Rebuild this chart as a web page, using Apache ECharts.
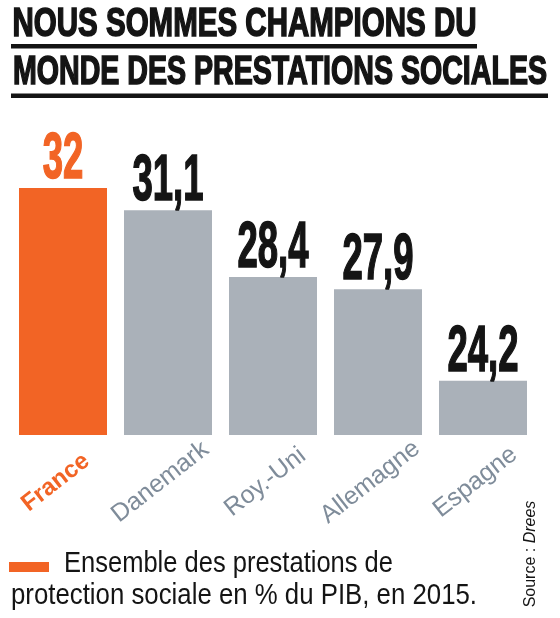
<!DOCTYPE html>
<html>
<head>
<meta charset="utf-8">
<script src="https://cdn.jsdelivr.net/npm/echarts@6/dist/echarts.min.js"></script>
<style>html,body{margin:0;padding:0;background:#fff;}#c{width:560px;height:618px;}</style>
</head>
<body>
<div id="c"></div>
<script>
const titleLines = ['NOUS SOMMES CHAMPIONS DU', 'MONDE DES PRESTATIONS SOCIALES'];
const categories = ['France', 'Danemark', 'Roy.-Uni', 'Allemagne', 'Espagne'];
const values = [32, 31.1, 28.4, 27.9, 24.2];
const legendLines = ['Ensemble des prestations de', 'protection sociale en % du PIB, en 2015.'];
const sourceLabel = 'Source : ';
const sourceName = 'Drees';

const ORANGE = '#f26425';
const GRAY = '#aab1b9';
const LABEL_GRAY = '#7f8c9a';
const INK = '#141414';
const FAM = '"Liberation Sans", Arial, sans-serif';

const ctx = document.createElement('canvas').getContext('2d');
function fitScale(text, font, target) {
  ctx.font = font;
  const w = ctx.measureText(text).width;
  return w > 0 ? target / w : 1;
}
const titleFont = 'bold 40px ' + FAM;
const t1Scale = fitScale(titleLines[0], titleFont, 464);
const t2Scale = fitScale(titleLines[1], titleFont, 534);
const legFont = '30px ' + FAM;
const l1Scale = fitScale(legendLines[0], legFont, 329);
const l2Scale = fitScale(legendLines[1], legFont, 466);

const chart = echarts.init(document.getElementById('c'), null, {renderer: 'canvas'});
const fmt = v => String(v).replace('.', ',');

chart.setOption({
  backgroundColor: '#fff',
  animation: false,
  grid: {left: 10.5, right: 24.5, top: 188, bottom: 183},
  xAxis: {
    type: 'category',
    data: categories,
    axisLine: {show: false},
    axisTick: {show: false},
    axisLabel: {
      interval: 0,
      rotate: 38,
      margin: 57,
      align: 'center',
      verticalAlign: 'bottom',
      formatter: (v, i) => i === 0 ? '{a|' + v + '}' : '{b|' + v + '}',
      rich: {
        a: {color: ORANGE, fontWeight: 'bold', fontSize: 24, fontFamily: FAM},
        b: {color: LABEL_GRAY, fontWeight: 'normal', fontSize: 25, fontFamily: FAM}
      }
    }
  },
  yAxis: {type: 'value', min: 22, max: 32, show: false, splitLine: {show: false}},
  series: [
    {
      name: legendLines.join(' '),
      type: 'bar',
      barWidth: 88,
      itemStyle: {color: ORANGE},
      data: values.map((v, i) => ({value: v, itemStyle: {color: i === 0 ? ORANGE : GRAY}}))
    },
    {
      type: 'custom',
      name: 'valeurs',
      data: values.map((v, i) => [i, v]),
      renderItem: (params, api) => {
        const pt = api.coord([api.value(0), api.value(1)]);
        const i = params.dataIndex;
        const c = i === 0 ? ORANGE : INK;
        return {
          type: 'text',
          x: pt[0],
          y: pt[1] - 27.5,
          scaleX: 0.57,
          style: {
            text: fmt(values[i]),
            font: 'bold 64px ' + FAM,
            fill: c,
            stroke: c,
            lineWidth: 1.6,
            align: 'center',
            verticalAlign: 'middle'
          }
        };
      },
      z: 5
    }
  ],
  graphic: [
    {type: 'text', x: 12.5, y: 25, scaleX: t1Scale,
     style: {text: titleLines[0], font: titleFont, fill: INK, stroke: INK, lineWidth: 1.6, align: 'left', verticalAlign: 'middle'}},
    {type: 'rect', shape: {x: 11, y: 44, width: 466, height: 4.5}, style: {fill: INK}},
    {type: 'text', x: 13, y: 72.5, scaleX: t2Scale,
     style: {text: titleLines[1], font: titleFont, fill: INK, stroke: INK, lineWidth: 1.6, align: 'left', verticalAlign: 'middle'}},
    {type: 'rect', shape: {x: 11, y: 93.5, width: 537, height: 4.5}, style: {fill: INK}},
    {type: 'rect', shape: {x: 9, y: 562, width: 40, height: 10}, style: {fill: ORANGE}},
    {type: 'text', x: 64, y: 564, scaleX: l1Scale,
     style: {text: legendLines[0], font: legFont, fill: INK, align: 'left', verticalAlign: 'middle'}},
    {type: 'text', x: 11, y: 596, scaleX: l2Scale,
     style: {text: legendLines[1], font: legFont, fill: INK, align: 'left', verticalAlign: 'middle'}},
    {type: 'text', x: 531, y: 554, rotation: Math.PI / 2,
     style: {text: '{a|' + sourceLabel + '}{b|' + sourceName + '}', align: 'center', verticalAlign: 'middle',
       rich: {a: {font: '16px ' + FAM, fill: INK}, b: {font: 'italic 16px ' + FAM, fill: INK}}}}
  ]
});
</script>
</body>
</html>
